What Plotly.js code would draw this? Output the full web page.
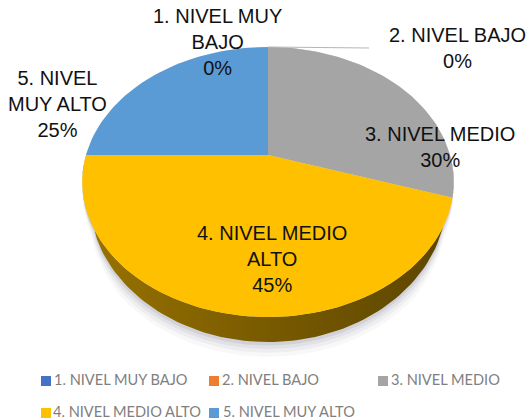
<!DOCTYPE html>
<html><head><meta charset="utf-8">
<script src="https://cdn.plot.ly/plotly-3.0.1.min.js"></script>
<style>html,body{margin:0;padding:0;background:#fff}#c{width:530px;height:420px}</style>
</head><body><div id="c"></div>
<script>
const categories = ["1. NIVEL MUY BAJO","2. NIVEL BAJO","3. NIVEL MEDIO","4. NIVEL MEDIO ALTO","5. NIVEL MUY ALTO"];
const values = [0,0,30,45,25];
const faceColors = ["#4472C4","#ED7D31","#A5A5A5","#FFC000","#5B9BD5"];
const wrappedNames = ["1. NIVEL MUY<br>BAJO","2. NIVEL BAJO","3. NIVEL MEDIO","4. NIVEL MEDIO<br>ALTO","5. NIVEL<br>MUY ALTO"];
const labelX = [217,457,440,272,57];
const labelY = [42,48,147,259,104];
const legendX = [46,214,383,46,214];
const legendY = [381,381,381,413,413];
const legendTextX = [54,222,391,53,223];

// pie view: a tilted disc in perspective, in picture-pixel axis units
const cx=268, cy=155, rx=182, ry=129.6, persp=0.2, depth=20, wallStart=0.53;
const total = values.reduce((a,b)=>a+b,0);
function wallDrop(v){ return depth*Math.sqrt(Math.max(0,(-v-wallStart)/(1-wallStart))); }
function project(deg,wall,drop,grow){
  const t=deg*Math.PI/180, u=Math.sin(t), v=Math.cos(t), w=1+persp*v;
  const front=Math.max(0,Math.min(1,(-v-0.25)/0.5));
  const g=1+((grow||1)-1)*front;
  return [cx+g*rx*u/w, cy-g*ry*v/w+((wall?wallDrop(v):0)+(drop||0)*front)/w];
}
function arc(a,b,wall,drop,grow){
  const pts=[], n=Math.max(2,Math.ceil((b-a)/1.5));
  for(let i=0;i<=n;i++) pts.push(project(a+(b-a)*i/n,wall,drop,grow));
  return pts;
}
function poly(pts,fill){
  return {type:'scatter',mode:'lines',x:pts.map(p=>p[0]),y:pts.map(p=>p[1]),
    fill:'toself',fillcolor:fill,line:{width:0},hoverinfo:'skip',showlegend:false};
}
function shade(hex,f){
  const n=parseInt(hex.slice(1),16);
  return `rgb(${Math.round((n>>16&255)*f)},${Math.round((n>>8&255)*f)},${Math.round((n&255)*f)})`;
}
const traces=[];
// soft shadow under the disc
[[1.03,8,.05],[1.02,6,.07],[1.012,4,.1],[1.006,2,.15]].forEach(s=>{
  traces.push(poly(arc(0,360,true,s[1],s[0]),`rgba(120,120,135,${s[2]})`));
});
// side wall, lit from the left
let a0=0;
const spans=values.map(val=>{const s=[a0,a0+val/total*360];a0=s[1];return s;});
spans.forEach((s,i)=>{
  const a=Math.max(s[0],90), b=Math.min(s[1],270);
  if(values[i]>0 && b>a){
    const wallTrace=poly(arc(a,b,false).concat(arc(a,b,true).reverse()),shade(faceColors[i],0.48));
    wallTrace.fillgradient={type:'horizontal',colorscale:[[0,shade(faceColors[i],0.6)],[0.5,shade(faceColors[i],0.47)],[1,shade(faceColors[i],0.36)]]};
    traces.push(wallTrace);
  }
});
// top faces
spans.forEach((s,i)=>{
  if(values[i]>0){
    traces.push(poly([[cx,cy]].concat(arc(s[0],s[1],false)).concat([[cx,cy]]),faceColors[i]));
  }
});
// leader line of the zero slice
traces.push({type:'scatter',mode:'lines',x:[268,369],y:[47,48],line:{color:'#B5B5B5',width:1},hoverinfo:'skip',showlegend:false});
// legend swatches and names
traces.push({type:'scatter',mode:'markers',x:legendX,y:legendY,
  marker:{symbol:'square',size:10,color:faceColors},hoverinfo:'skip',showlegend:false});
traces.push({type:'scatter',mode:'text',x:legendTextX,y:legendY,text:categories,textposition:'middle right',
  textfont:{family:'Lato, sans-serif',size:14.6,color:'#7F7F7F'},hoverinfo:'skip',showlegend:false});

const annotations=categories.map((c,i)=>({
  xref:'x',yref:'y',x:labelX[i],y:labelY[i],xanchor:'center',yanchor:'middle',showarrow:false,
  text:wrappedNames[i]+'<br>'+values[i]+'%',align:'center',
  font:{family:'Liberation Sans, Arial, sans-serif',size:20,color:'#111111'}
}));
Plotly.newPlot('c',traces,{
  width:530,height:420,margin:{l:0,r:0,t:0,b:0},paper_bgcolor:'#fff',plot_bgcolor:'#fff',
  xaxis:{range:[0,530],visible:false,fixedrange:true},
  yaxis:{range:[420,0],visible:false,fixedrange:true},
  showlegend:false,annotations:annotations
},{displayModeBar:false,staticPlot:true});
</script></body></html>
